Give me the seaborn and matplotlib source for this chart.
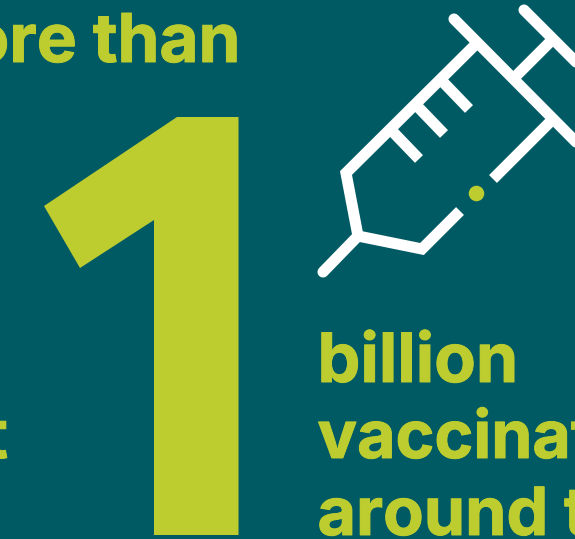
import matplotlib
matplotlib.use("Agg")
import matplotlib.pyplot as plt
import matplotlib.patheffects as pe
import seaborn as sns

BG = "#005a63"
LIME = "#bdcd2f"

sns.set_theme(style="white", rc={"figure.facecolor": BG, "axes.facecolor": BG})
plt.rcParams["font.family"] = ["Inter", "DejaVu Sans"]

# big numeral outline
one_x = [177, 238.5, 238.5, 154, 154, 80, 44]
one_y = [117, 117, 535, 535, 220, 268, 206]

# syringe strokes
flange_x = [454, 576]
flange_y = [19, 142]
plunger_x = [524, 590]
plunger_y = [10, 76]
shaft_x = [515, 551]
shaft_y = [77, 41]
barrel_x = [474, 346, 358, 422, 460]
barrel_y = [46, 173, 236, 249, 211]
lower_x = [550, 493]
lower_y = [122, 179]
needle_x = [358, 323]
needle_y = [236, 272]
tick_x = [[393, 419], [418, 444], [443, 469]]
tick_y = [[132, 159], [107, 134], [82, 109]]
dot_x = [476]
dot_y = [193]

top_label = "More than"
right_lines = ["billion", "vaccinations", "around the world"]
right_baselines = [382, 458, 535]
right_sizes = [49, 47.6, 47.8]
left_label = "t"

fig = plt.figure(figsize=(5.75, 5.39), dpi=100)
ax = fig.add_axes([0, 0, 1, 1])

ax.fill(one_x, one_y, color=LIME, lw=0)


def stroke(xs, ys, cap):
    sns.lineplot(x=xs, y=ys, ax=ax, sort=False, estimator=None, color="white",
                 lw=8, solid_capstyle=cap, solid_joinstyle="miter")


stroke(flange_x, flange_y, "round")
stroke(plunger_x, plunger_y, "round")
stroke(shaft_x, shaft_y, "butt")
stroke(barrel_x, barrel_y, "butt")
stroke(lower_x, lower_y, "butt")
stroke(needle_x, needle_y, "round")
for xs, ys in zip(tick_x, tick_y):
    stroke(xs, ys, "butt")

sns.scatterplot(x=dot_x, y=dot_y, ax=ax, color=LIME, s=125, linewidth=0)

ax.set_xlim(0, 575)
ax.set_ylim(539, 0)
ax.axis("off")

heavier = [pe.withStroke(linewidth=0.7, foreground=LIME)]
ax.text(240.5, 62, top_label, color=LIME, fontsize=48.5, fontweight="bold",
        ha="right", va="baseline", path_effects=heavier)
ax.text(8, 458, left_label, color=LIME, fontsize=48.5, fontweight="bold",
        ha="right", va="baseline", path_effects=heavier)
for line, base, size in zip(right_lines, right_baselines, right_sizes):
    ax.text(317.5, base, line, color=LIME, fontsize=size, fontweight="bold",
            ha="left", va="baseline", path_effects=heavier)

fig.savefig("out.png", dpi=100, facecolor=BG)
